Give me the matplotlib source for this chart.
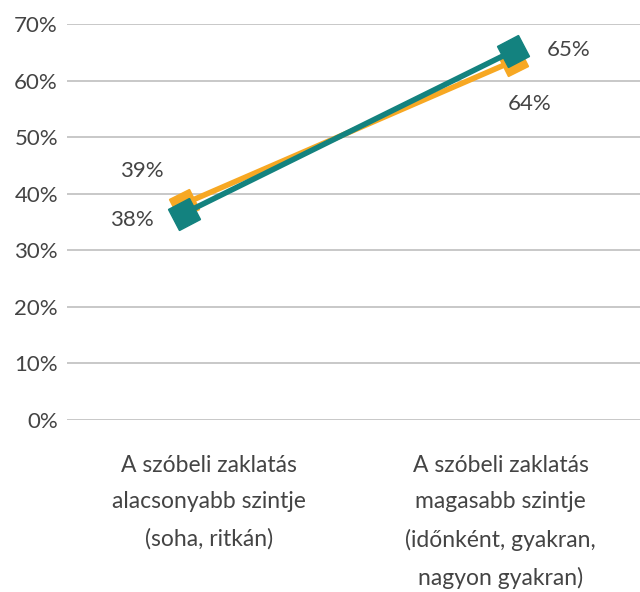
import matplotlib
matplotlib.use("Agg")
import matplotlib.pyplot as plt
from matplotlib.markers import MarkerStyle
from matplotlib.transforms import Affine2D

plt.rcParams['font.family'] = ['Lato', 'DejaVu Sans']

categories = ['A szóbeli zaklatás\nalacsonyabb szintje\n(soha, ritkán)',
              'A szóbeli zaklatás\nmagasabb szintje\n(időnként, gyakran,\nnagyon gyakran)']
orange_vals = [0.382, 0.634]
teal_vals = [0.365, 0.652]
orange_labels = ['39%', '64%']
teal_labels = ['38%', '65%']
yticks = [0, 0.1, 0.2, 0.3, 0.4, 0.5, 0.6, 0.7]

orange = '#F7A823'
teal = '#13827F'
txt = '#444444'

fig = plt.figure(figsize=(6.4, 5.92), dpi=100)
ax = fig.add_axes([67/640, 172/592, 1 - 67/640, 396/592])

x = [0, 1]
sq = MarkerStyle('s', transform=Affine2D().rotate_deg(27))
ax.plot(x, orange_vals, color=orange, lw=4, marker=sq, ms=16, zorder=3)
ax.plot(x, teal_vals, color=teal, lw=4, marker=sq, ms=17.5, zorder=4)

for xi, v, s, off in zip(x, orange_vals, orange_labels, [(-30, 24), (12, -31)]):
    ax.annotate(s, (xi, v), xytext=off, textcoords='offset points',
                ha='center', va='center', fontsize=16, color=txt)
for xi, v, s, off in zip(x, teal_vals, teal_labels, [(-37, -5), (40, 1)]):
    ax.annotate(s, (xi, v), xytext=off, textcoords='offset points',
                ha='center', va='center', fontsize=16, color=txt)

ax.set_xlim(-0.355, 1.387)
ax.set_ylim(0, 0.7)
ax.set_yticks(yticks)
ax.set_yticklabels([f'{int(round(t*100))}%' for t in yticks])
ax.yaxis.grid(True, color='#BFBFBF', lw=1.2)
ax.set_axisbelow(True)
ax.tick_params(axis='y', length=0, pad=6.5, labelsize=16, labelcolor=txt)
ax.set_xticks([])
for sp in ax.spines.values():
    sp.set_visible(False)

for pos, c in zip([0.248, 0.757], categories):
    ax.text(pos, -0.088, c, transform=ax.transAxes, ha='center', va='top',
            fontsize=16.5, color=txt, linespacing=1.9)

fig.savefig('out.png', dpi=100)
